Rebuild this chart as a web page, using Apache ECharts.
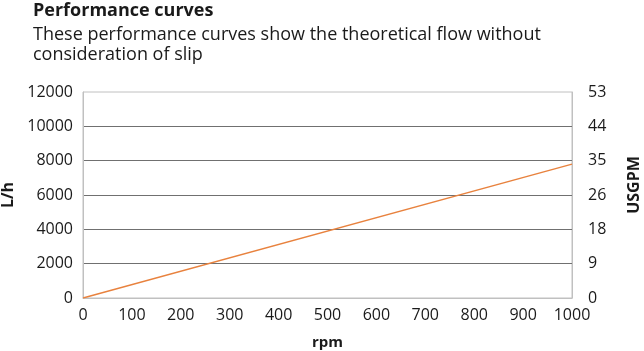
<!DOCTYPE html>
<html>
<head>
<meta charset="utf-8">
<script src="https://cdn.jsdelivr.net/npm/echarts@6/dist/echarts.min.js"></script>
<style>
  html, body { margin: 0; padding: 0; background: #fff; }
  #chart { width: 644px; height: 351px; }
</style>
</head>
<body>
<div id="chart"></div>
<script>
// rpm vs theoretical flow (L/h)
var rpm = [0, 1000];
var flowLh = [0, 7800];
var leftTicks = [0, 2000, 4000, 6000, 8000, 10000, 12000];
var rightTickLabels = ['0', '9', '18', '26', '35', '44', '53'];

var font = '"Open Sans", "Noto Sans", sans-serif';
var chart = echarts.init(document.getElementById('chart'));

var points = rpm.map(function (r, i) { return [r, flowLh[i]]; });

var option = {
    animation: false,
    textStyle: { fontFamily: font },
    title: {
        text: 'Performance curves',
        subtext: 'These performance curves show the theoretical flow without\nconsideration of slip',
        left: 28,
        top: -3,
        itemGap: 5,
        textStyle: { fontFamily: font, fontSize: 18, fontWeight: 'bold', color: '#1a1a1a' },
        subtextStyle: { fontFamily: font, fontSize: 18, color: '#1a1a1a', lineHeight: 20 }
    },
    grid: {
        left: 83, right: 72, top: 92, bottom: 53,
        containLabel: false,
        outerBoundsMode: 'none',
        show: true, borderColor: '#c0c0c0', borderWidth: 1
    },
    xAxis: {
        type: 'value',
        min: 0, max: 1000, interval: 100,
        name: 'rpm',
        nameLocation: 'middle',
        nameGap: 37,
        nameTextStyle: { fontFamily: font, fontSize: 15, fontWeight: 'bold', color: '#1a1a1a' },
        axisLine: { show: true, lineStyle: { color: '#c0c0c0' } },
        axisTick: { show: false },
        splitLine: { show: false },
        axisLabel: { fontFamily: font, fontSize: 16, color: '#1a1a1a', margin: 9, formatter: function (v) { return String(v); } }
    },
    yAxis: [
        {
            type: 'value',
            min: 0, max: 12000, interval: 2000,
            name: 'L/h',
            nameLocation: 'middle',
            nameGap: 66,
            nameTextStyle: { fontFamily: font, fontSize: 16, fontWeight: 'bold', color: '#1a1a1a' },
            axisLine: { show: true, lineStyle: { color: '#c0c0c0' } },
            axisTick: { show: false },
            splitLine: { show: true, showMinLine: false, showMaxLine: false, lineStyle: { color: '#707070', width: 1 } },
            axisLabel: { fontFamily: font, fontSize: 16, color: '#1a1a1a', margin: 10, formatter: function (v) { return String(v); } }
        },
        {
            type: 'value',
            position: 'right',
            min: 0, max: 12000, interval: 2000,
            name: 'USGPM',
            nameLocation: 'middle',
            nameGap: 54,
            nameRotate: 90,
            nameTextStyle: { fontFamily: font, fontSize: 16, fontWeight: 'bold', color: '#1a1a1a', padding: [0, 0, 0, 20] },
            axisLine: { show: true, lineStyle: { color: '#c0c0c0' } },
            axisTick: { show: false },
            splitLine: { show: false },
            axisLabel: {
                fontFamily: font, fontSize: 16, color: '#1a1a1a', margin: 16,
                formatter: function (v) {
                    return rightTickLabels[leftTicks.indexOf(v)];
                }
            }
        }
    ],
    series: [
        {
            type: 'line',
            data: points,
            showSymbol: false,
            lineStyle: { color: '#e8823e', width: 1.5 },
            itemStyle: { color: '#e8823e' }
        }
    ]
};

chart.setOption(option);
</script>
</body>
</html>
